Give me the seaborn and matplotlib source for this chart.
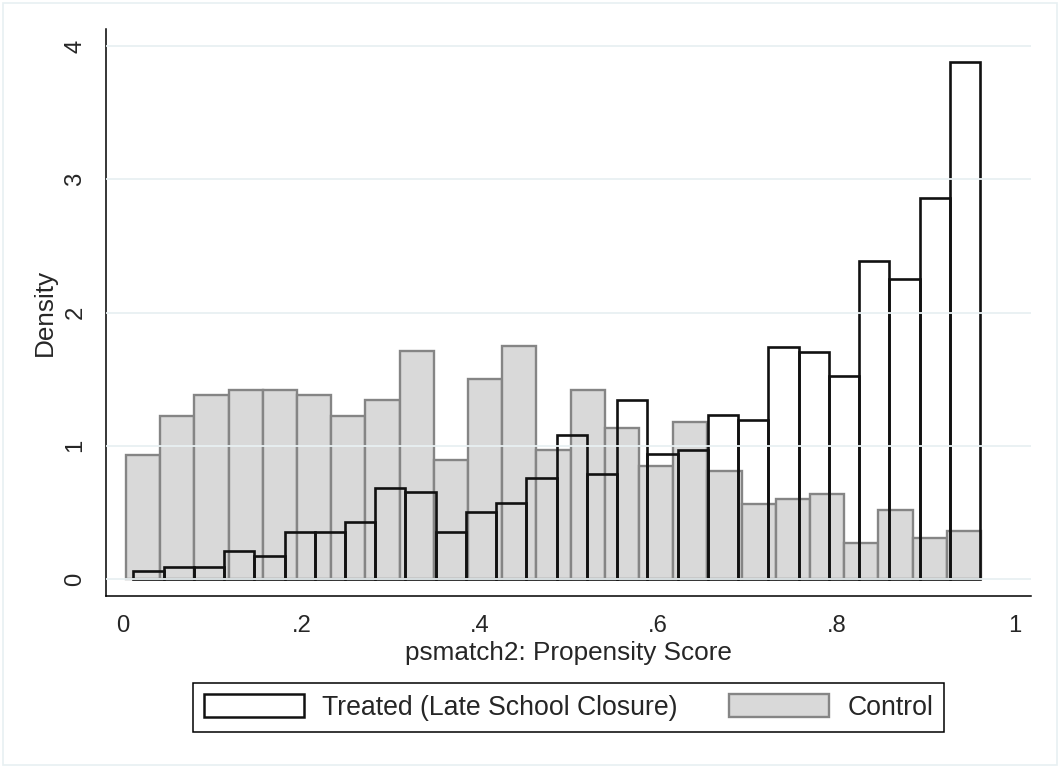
import numpy as np
import pandas as pd
import matplotlib
matplotlib.use("Agg")
import matplotlib.pyplot as plt
from matplotlib.patches import Patch, Rectangle
import seaborn as sns

# ---------------- data ----------------
ctrl_bin_start = 0.0034
ctrl_bin_width = 0.03834
ctrl_density = [0.93, 1.22, 1.38, 1.42, 1.42, 1.38, 1.22, 1.34, 1.71, 0.89,
                1.50, 1.75, 0.97, 1.42, 1.13, 0.85, 1.18, 0.81, 0.56, 0.60,
                0.64, 0.27, 0.52, 0.31, 0.36]

treat_bin_start = 0.0116
treat_bin_width = 0.0339
treat_density = [0.06, 0.09, 0.09, 0.21, 0.17, 0.35, 0.35, 0.43, 0.68, 0.65,
                 0.35, 0.50, 0.57, 0.76, 1.08, 0.79, 1.34, 0.94, 0.97, 1.23,
                 1.19, 1.74, 1.70, 1.52, 2.39, 2.25, 2.86, 3.88]

x_ticks = [0, 0.2, 0.4, 0.6, 0.8, 1.0]
x_tick_labels = ["0", ".2", ".4", ".6", ".8", "1"]
y_ticks = [0, 1, 2, 3, 4]
y_tick_labels = ["0", "1", "2", "3", "4"]

x_title = "psmatch2: Propensity Score"
y_title = "Density"
treat_label = "Treated (Late School Closure)"
ctrl_label = "Control"

# ---------------- styling ----------------
sns.set_style("white")
plt.rcParams["font.family"] = ["Liberation Sans", "DejaVu Sans"]

W, H = 1059, 766
fig = plt.figure(figsize=(W / 100, H / 100), dpi=100)
fig.patch.set_facecolor("white")

# plot area: spine x 106..1031, y 29..596 (pixels)
ax = fig.add_axes([106 / W, 1 - 596 / H, (1031 - 106) / W, (596 - 29) / H])

ctrl_edges = [ctrl_bin_start + ctrl_bin_width * i for i in range(len(ctrl_density) + 1)]
treat_edges = [treat_bin_start + treat_bin_width * i for i in range(len(treat_density) + 1)]
ctrl_df = pd.DataFrame({"score": [(a + b) / 2 for a, b in zip(ctrl_edges[:-1], ctrl_edges[1:])],
                        "density": ctrl_density})
treat_df = pd.DataFrame({"score": [(a + b) / 2 for a, b in zip(treat_edges[:-1], treat_edges[1:])],
                         "density": treat_density})

sns.histplot(data=ctrl_df, x="score", weights="density", bins=ctrl_edges,
             stat="count", fill=True, color="#d9d9d9", alpha=1,
             edgecolor="#858585", linewidth=1.7, ax=ax, zorder=1)
sns.histplot(data=treat_df, x="score", weights="density", bins=treat_edges,
             stat="count", fill=False, color="#111111",
             linewidth=1.9, ax=ax, zorder=1.2)

ax.set_xlim((106 - 123) / 892, (1031 - 123) / 892)
ax.set_ylim((579 - 596) / 133.25, (579 - 29) / 133.25)

ax.set_xticks(x_ticks)
ax.set_xticklabels(x_tick_labels)
ax.set_yticks(y_ticks)
ax.set_yticklabels(y_tick_labels, rotation=90, va="center")

ax.tick_params(axis="both", direction="out", length=7.5, width=1.1,
               color="black", labelsize=17.2, pad=6.5)
ax.grid(axis="y", color="#e8f0f2", linewidth=1.3)
ax.grid(axis="x", visible=False)
ax.set_axisbelow(False)

for side in ["top", "right"]:
    ax.spines[side].set_visible(False)
for side in ["left", "bottom"]:
    ax.spines[side].set_linewidth(1.1)
    ax.spines[side].set_color("black")

ax.set_xlabel(x_title, fontsize=18.8)
ax.set_ylabel(y_title, fontsize=18.8)
ax.xaxis.set_label_coords(0.5, -(641 - 596) / 567)
ax.yaxis.set_label_coords((57 - 106) / 925, 0.5)

handles = [Patch(facecolor="white", edgecolor="#111111", linewidth=1.8,
                 label=treat_label),
           Patch(facecolor="#d9d9d9", edgecolor="#858585", linewidth=1.7,
                 label=ctrl_label)]
leg = fig.legend(handles=handles, loc="center", ncol=2,
                 bbox_to_anchor=(568.5 / W, 1 - 707.5 / H),
                 fontsize=19.2, frameon=True, fancybox=False, framealpha=1,
                 edgecolor="black", handlelength=3.75, handleheight=0.94,
                 handletextpad=0.67, columnspacing=1.95, borderpad=0.42)
leg.get_frame().set_linewidth(1.1)

# faint outer frame of the graph region
fig.patches.append(Rectangle((3 / W, 1 / H), (1057 - 3) / W, (763 - 1) / H,
                             transform=fig.transFigure, fill=False,
                             edgecolor="#e8f0f2", linewidth=1.2))

fig.savefig("out.png", dpi=100, facecolor="white")
